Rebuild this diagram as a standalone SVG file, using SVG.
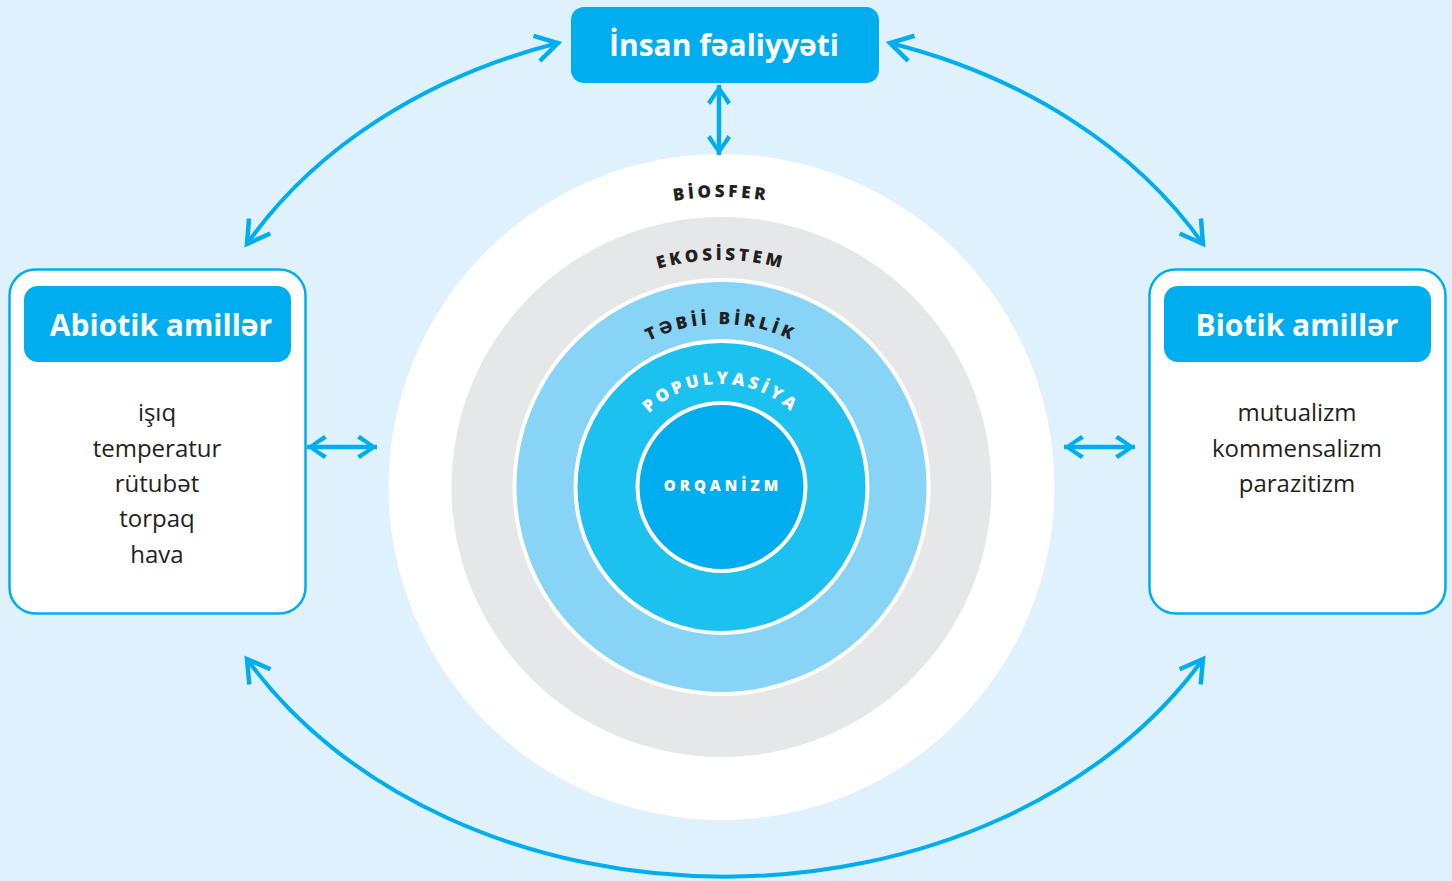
<svg xmlns="http://www.w3.org/2000/svg" width="1452" height="881" viewBox="0 0 1452 881">
<style>
.hdr{font-family:"Open Sans","Noto Sans",sans-serif;font-weight:700;fill:#fff;text-anchor:middle}
.item{font-family:"Open Sans","Noto Sans",sans-serif;font-size:24px;fill:#231f20;text-anchor:middle}
.ring{font-family:"Open Sans","Noto Sans",sans-serif;font-weight:800;font-size:17px;letter-spacing:3.5px;text-anchor:middle}
.curve{fill:none;stroke:#00aeef;stroke-width:4;marker-start:url(#chev);marker-end:url(#chev)}
.straight{fill:none;stroke:#00aeef;stroke-width:4.5;marker-start:url(#barb);marker-end:url(#barb)}
</style>
<defs>
<marker id="chev" markerUnits="userSpaceOnUse" viewBox="-30 -20 40 40" markerWidth="40" markerHeight="40" refX="0" refY="0" orient="auto-start-reverse" overflow="visible">
<path d="M-22,-13 L0,0 L-22,13" fill="none" stroke="#00aeef" stroke-width="4.5"/>
</marker>
<marker id="barb" markerUnits="userSpaceOnUse" viewBox="-30 -20 40 40" markerWidth="40" markerHeight="40" refX="0" refY="0" orient="auto-start-reverse" overflow="visible">
<path d="M0,0 L-17,-12 L-20,-8.5 L-10,-2.2 L-10,2.2 L-20,8.5 L-17,12 Z" fill="#00aeef"/>
</marker>
<path id="pBio" d="M431,487 A290,290 0 0 1 1011,487"/>
<path id="pEko" d="M494,487 A227,227 0 0 1 948,487"/>
<path id="pTeb" d="M558,487 A163,163 0 0 1 884,487"/>
<path id="pPop" d="M618,487 A103,103 0 0 1 824,487"/>
</defs>
<rect width="1452" height="881" fill="#dff1fc"/>

<g id="biosfer">
<circle cx="721.5" cy="487" r="333" fill="#ffffff"/>
<text class="ring" fill="#231f20"><textPath href="#pBio" startOffset="50%">BİOSFER</textPath></text>
</g>
<g id="ekosistem">
<circle cx="721.5" cy="487" r="270" fill="#e6e7e8"/>
<text class="ring" fill="#231f20"><textPath href="#pEko" startOffset="50%">EKOSİSTEM</textPath></text>
</g>
<g id="tebii-birlik">
<circle cx="721.5" cy="487" r="207" fill="#87d4f7" stroke="#ffffff" stroke-width="4"/>
<text class="ring" fill="#231f20"><textPath href="#pTeb" startOffset="50%">TƏBİİ BİRLİK</textPath></text>
</g>
<g id="populyasiya">
<circle cx="721.5" cy="487" r="146" fill="#1cc1f0" stroke="#ffffff" stroke-width="4"/>
<text class="ring" fill="#ffffff"><textPath href="#pPop" startOffset="50%">POPULYASİYA</textPath></text>
</g>
<g id="orqanizm">
<circle cx="721.5" cy="487" r="84" fill="#00adee" stroke="#ffffff" stroke-width="4"/>
<text x="723" y="491" class="ring" fill="#ffffff" style="font-size:15px;letter-spacing:4px">ORQANİZM</text>
</g>

<g id="insan">
<rect x="571" y="7" width="308" height="76" rx="13" fill="#00aeef"/>
<text x="724" y="56" class="hdr" font-size="30">İnsan fəaliyyəti</text>
</g>

<g id="abiotik">
<rect x="9.5" y="269.5" width="296" height="344" rx="26" fill="#ffffff" stroke="#00aeef" stroke-width="2.5"/>
<rect x="24" y="286" width="267" height="76" rx="14" fill="#00aeef"/>
<text x="161" y="336" class="hdr" font-size="30">Abiotik amillər</text>
<text class="item"><tspan x="157" y="421">işıq</tspan><tspan x="157" y="457">temperatur</tspan><tspan x="157" y="492">rütubət</tspan><tspan x="157" y="527">torpaq</tspan><tspan x="157" y="563">hava</tspan></text>
</g>

<g id="biotik">
<rect x="1149.5" y="269.5" width="296" height="344" rx="26" fill="#ffffff" stroke="#00aeef" stroke-width="2.5"/>
<rect x="1164" y="286" width="267" height="76" rx="14" fill="#00aeef"/>
<text x="1297" y="336" class="hdr" font-size="30">Biotik amillər</text>
<text class="item"><tspan x="1297" y="421">mutualizm</tspan><tspan x="1297" y="457">kommensalizm</tspan><tspan x="1297" y="492">parazitizm</tspan></text>
</g>

<g id="connectors">
<path class="curve" d="M558,43 A548,426 0 0 0 247,244"/>
<path class="curve" d="M890,43 A548,426 0 0 1 1203,244"/>
<path class="curve" d="M247,659 A548,426 0 0 0 1203,659"/>
<path class="straight" d="M719,85 L719,155"/>
<path class="straight" d="M307,447 L377,447"/>
<path class="straight" d="M1064,447 L1135,447"/>
</g>
</svg>
